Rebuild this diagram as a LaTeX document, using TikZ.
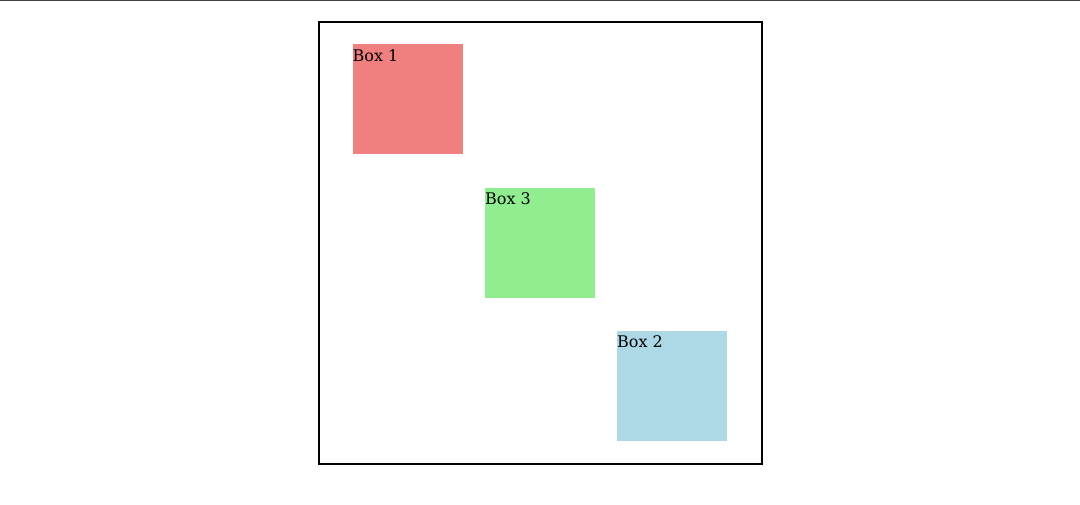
\documentclass[tikz,border=0pt]{standalone}
\usepackage{fontspec}
\setmainfont{DejaVu Serif}
\definecolor{lcoral}{HTML}{F08080}
\definecolor{lgreen}{HTML}{90EE90}
\definecolor{lblue}{HTML}{ADD8E6}
\begin{document}
\begin{tikzpicture}[x=1pt,y=-1pt,
  sq/.style={draw=none,inner sep=0pt,minimum size=110pt,anchor=north west},
  lbl/.style={inner sep=0pt,anchor=base west,font=\fontsize{16}{18}\selectfont}]
\useasboundingbox (0,0) rectangle (1080,504);
\draw[line width=1pt,draw=black!75] (0,0.5) -- (1080,0.5);
\node[draw=black,line width=2pt,inner sep=0pt,minimum width=443pt,minimum height=442pt,anchor=north west] (frame) at (318,21) {};
\node[sq,fill=lcoral] (b1) at (352.5,44) {};
\node[sq,fill=lgreen] (b3) at (485,187.5) {};
\node[sq,fill=lblue] (b2) at (617,330.5) {};
\node[lbl] (t1) at (352.5,61) {Box 1};
\node[lbl] (t3) at (485,204) {Box 3};
\node[lbl] (t2) at (617,347) {Box 2};
\end{tikzpicture}
\end{document}
